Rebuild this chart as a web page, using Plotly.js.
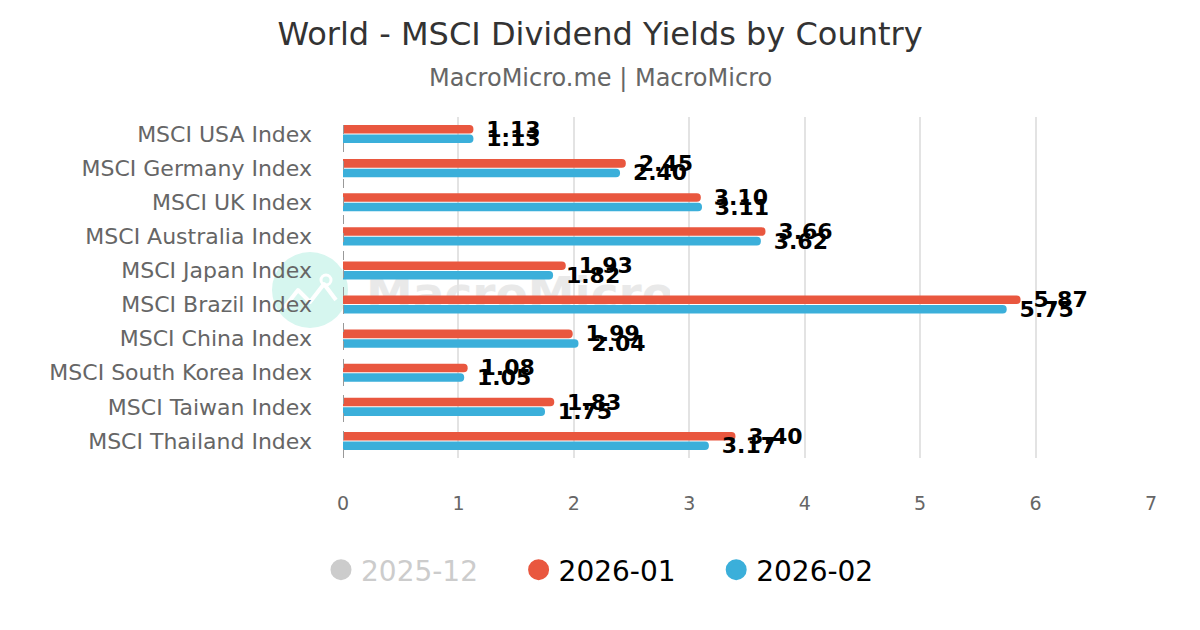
<!DOCTYPE html>
<html>
<head>
<meta charset="utf-8">
<script src="https://cdn.plot.ly/plotly-3.0.1.min.js"></script>
<style>html,body{margin:0;padding:0;background:#fff;}#chart{width:1200px;height:630px;}</style>
</head>
<body>
<div id="chart"></div>
<script>
const categories = [
  "MSCI USA Index", "MSCI Germany Index", "MSCI UK Index", "MSCI Australia Index",
  "MSCI Japan Index", "MSCI Brazil Index", "MSCI China Index", "MSCI South Korea Index",
  "MSCI Taiwan Index", "MSCI Thailand Index"
];
const series2026_01 = [1.13, 2.45, 3.10, 3.66, 1.93, 5.87, 1.99, 1.08, 1.83, 3.40];
const series2026_02 = [1.13, 2.40, 3.11, 3.62, 1.82, 5.75, 2.04, 1.05, 1.75, 3.17];
const seriesNames = ["2025-12", "2026-01", "2026-02"];
const xTickValues = [0, 1, 2, 3, 4, 5, 6, 7];

const RED = "#e9573f", BLUE = "#3bafda", GRAY = "#cccccc";
const FONT = "DejaVu Sans";
const PAD = "\u00a0\u00a0\u00a0\u00a0";

function barTrace(name, vals, color) {
  return {
    type: "bar", orientation: "h", name: name,
    x: vals, y: categories,
    marker: {color: color, cornerradius: 4},
    texttemplate: "\u00a0\u200a%{x:.2f}",
    textposition: "outside",
    constraintext: "none",
    cliponaxis: false,
    textfont: {family: FONT, size: 22, color: "#000", weight: "bold"},
    showlegend: false,
    hoverinfo: "x+name"
  };
}
function legendTrace(label, color) {
  return {
    type: "scatter", mode: "markers", x: [null], y: [null],
    name: label,
    marker: {color: color, size: 16, symbol: "circle", line: {color: color, width: 5}},
    showlegend: true, hoverinfo: "skip"
  };
}

const data = [
  barTrace(seriesNames[1], series2026_01, RED),
  barTrace(seriesNames[2], series2026_02, BLUE),
  legendTrace('<span style="color:#cccccc">' + seriesNames[0] + PAD + '</span>', GRAY),
  legendTrace(seriesNames[1] + PAD, RED),
  legendTrace(seriesNames[2], BLUE)
];

const wm = '<svg xmlns="http://www.w3.org/2000/svg" width="400" height="80" viewBox="0 0 400 80">' +
  '<circle cx="40" cy="40" r="38" fill="#d6f6ef"/>' +
  '<polyline points="14,58 28,40 40,52 54,34 66,50" fill="none" stroke="#ffffff" stroke-width="4" stroke-linejoin="round"/>' +
  '<circle cx="56" cy="30" r="5" fill="none" stroke="#ffffff" stroke-width="3"/>' +
  '<text x="96" y="60" font-family="DejaVu Sans" font-weight="bold" font-size="47" fill="#e9e9e9">MacroMicro</text>' +
  '</svg>';

const layout = {
  width: 1200, height: 630,
  paper_bgcolor: "#fff", plot_bgcolor: "#fff",
  font: {family: FONT, color: "#666"},
  margin: {l: 343, r: 49, t: 117, b: 172},
  title: {
    text: "World - MSCI Dividend Yields by Country",
    font: {family: FONT, size: 32, color: "#333"},
    x: 0.5, xref: "container", xanchor: "center",
    y: 1 - 34/630, yref: "container", yanchor: "middle"
  },
  annotations: [{
    text: "MacroMicro.me | MacroMicro", showarrow: false,
    xref: "paper", yref: "paper", x: (600-343)/808, y: (458-78)/341,
    xanchor: "center", yanchor: "middle",
    font: {family: FONT, size: 24, color: "#666"}
  }],
  barmode: "group", bargap: 0.44, bargroupgap: 0.1,
  xaxis: {
    range: [0, 7], tickvals: xTickValues, ticktext: xTickValues.map(String),
    showgrid: true, gridcolor: "#e3e3e3", gridwidth: 2,
    zeroline: false, showline: false, ticks: "",
    tickfont: {family: FONT, size: 19, color: "#666"},
    ticklabelstandoff: 32, fixedrange: true
  },
  yaxis: {
    type: "category", categoryorder: "array", categoryarray: categories,
    autorange: "reversed", showgrid: false, zeroline: false, showline: false, ticks: "",
    tickfont: {family: FONT, size: 22, color: "#666"},
    ticklabelstandoff: 30, fixedrange: true
  },
  shapes: [{
    type: "line", xref: "x", yref: "paper", x0: 0, x1: 0, y0: 0, y1: 1,
    line: {color: "#999", width: 2, dash: "dash"}, layer: "above"
  }],
  images: [{
    source: "data:image/svg+xml;charset=utf-8," + encodeURIComponent(wm),
    xref: "paper", yref: "paper",
    x: (270-343)/808, y: (458-250)/341, sizex: 400/808, sizey: 80/341,
    xanchor: "left", yanchor: "top", sizing: "stretch", layer: "below"
  }],
  legend: {
    orientation: "h", xref: "container", yref: "container",
    x: 0.5, xanchor: "center", y: 1 - 570/630, yanchor: "middle",
    font: {family: FONT, size: 28, color: "#000"},
    itemsizing: "trace", itemclick: false, itemdoubleclick: false
  },
  showlegend: true
};

Plotly.newPlot("chart", data, layout, {displayModeBar: false, staticPlot: true});
</script>
</body>
</html>
